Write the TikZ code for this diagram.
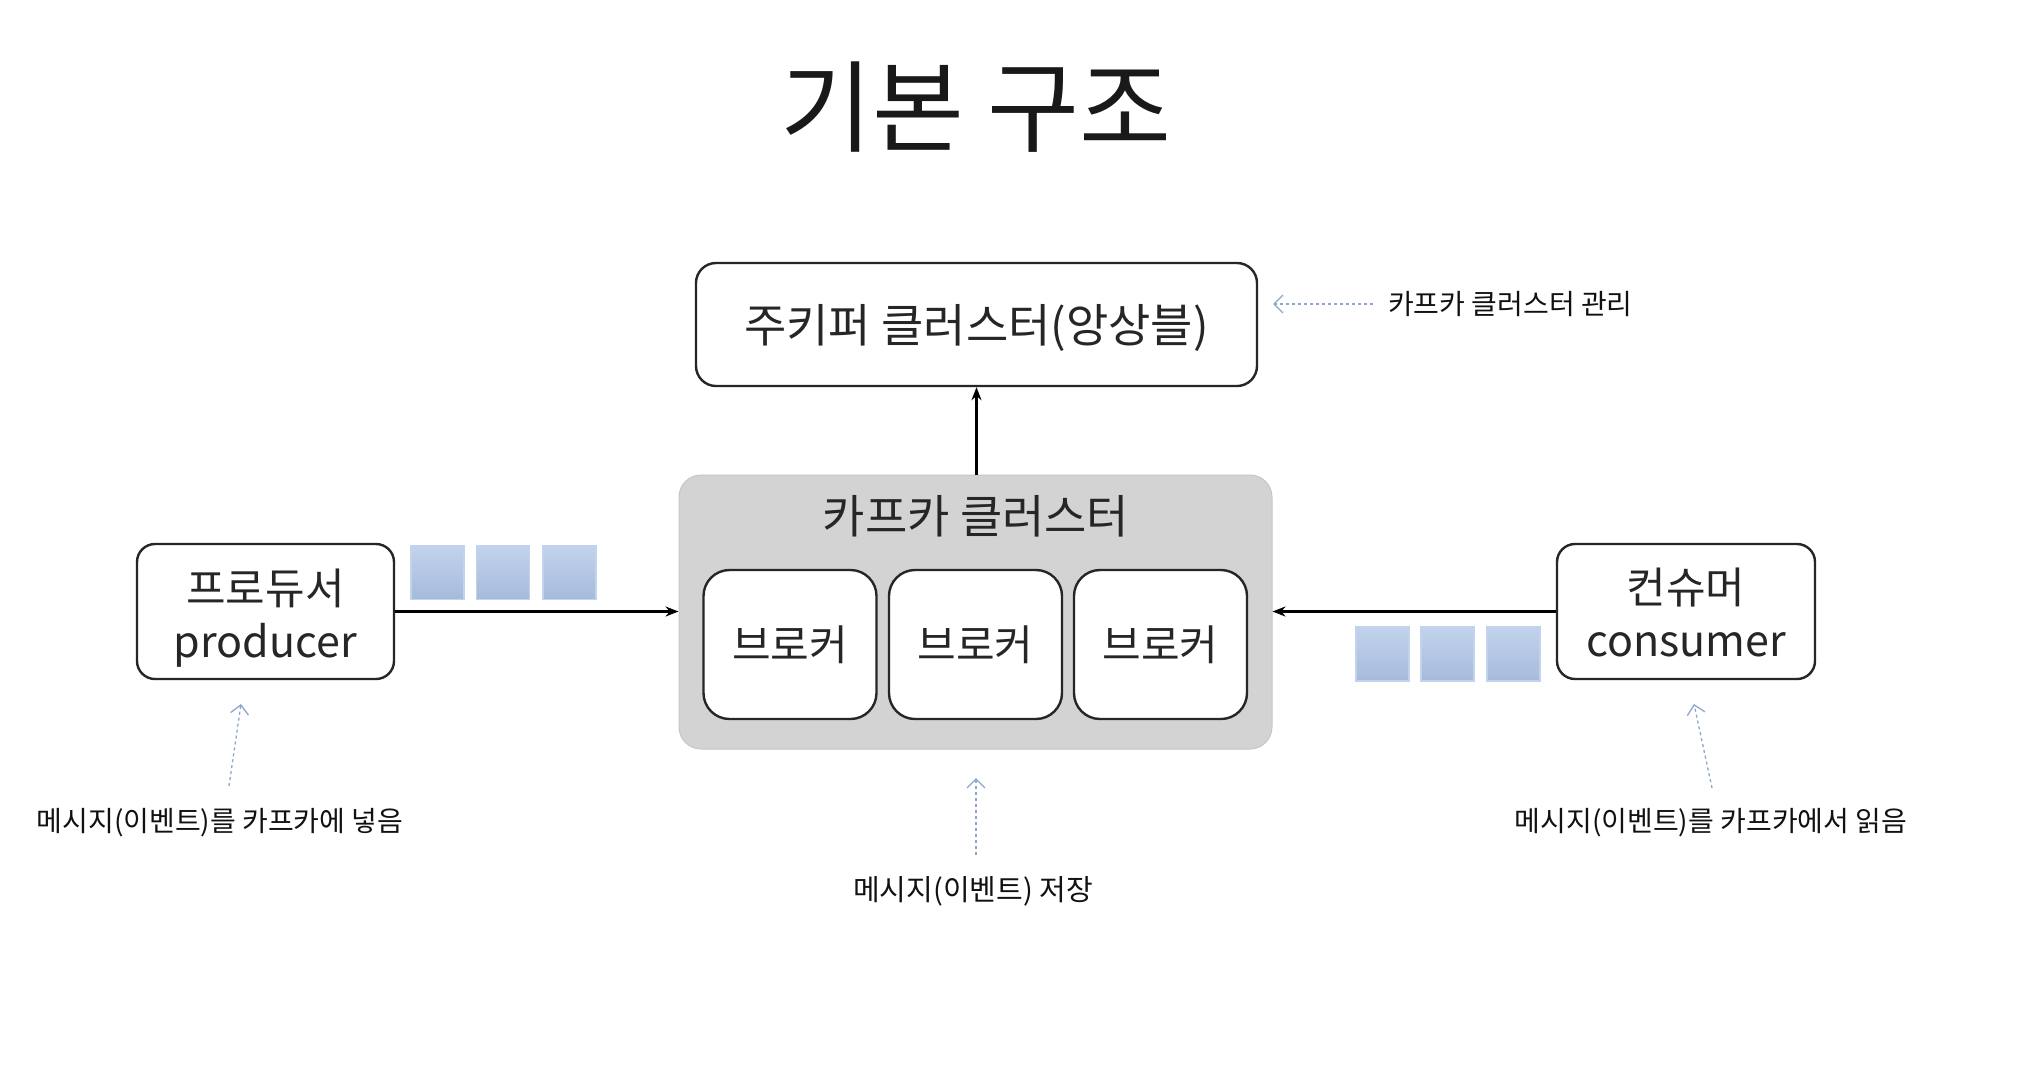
\documentclass[tikz,border=0pt]{standalone}
\usepackage{fontspec}
\setmainfont{Noto Sans CJK KR}
\usetikzlibrary{arrows.meta}
\definecolor{qblue}{HTML}{AEC4E6}
\definecolor{qedge}{HTML}{C2D3EE}
\definecolor{kgray}{HTML}{D3D3D3}
\definecolor{kedge}{HTML}{C6C6C6}
\definecolor{notec}{HTML}{8EA6CF}
\definecolor{inkc}{HTML}{111111}
\begin{document}
\begin{tikzpicture}[x=1pt,y=-1pt,
  box/.style={draw=black!85, line width=2.4pt, fill=white, rounded corners=20pt,
    align=center, inner sep=0pt, font=\fontsize{42}{55}\selectfont, text=black!85},
  brokerbox/.style={box, rounded corners=26pt, minimum width=173pt, minimum height=149pt},
  boxtext/.style={align=center, inner sep=0pt, font=\fontsize{43}{55}\selectfont, text=black!85},
  queue/.style={draw=qedge, line width=1.2pt, top color=qblue!75!white, bottom color=qblue!95!black,
    minimum width=53pt, minimum height=54pt, inner sep=0pt},
  flow/.style={draw=black, line width=2.6pt, -{Stealth[length=13pt,width=10pt]}},
  note/.style={font=\fontsize{28}{32}\selectfont, text=inkc, inner sep=0pt},
  notearrow/.style={draw=notec, line width=1.3pt, dash pattern=on 3pt off 3pt,
    -{Straight Barb[length=9pt,width=18pt,line width=1.3pt]}}
]
\useasboundingbox[fill=white] (0,0) rectangle (2040,1080);

% title
\node[font=\fontsize{100}{116}\selectfont, text=black!90] (title) at (976,107) {기본 구조};

% zookeeper
\node[box, minimum width=561pt, minimum height=123pt, font=\fontsize{46}{55}\selectfont] (zk) at (976.5,324.5) {};
\node[boxtext, font=\fontsize{46}{55}\selectfont] (zktext) at (976.5,328) {주키퍼 클러스터(앙상블)};

% kafka cluster
\node[draw=kedge, line width=1pt, fill=kgray, rounded corners=22pt, minimum width=593pt, minimum height=274pt] (kafka) at (975.5,612) {};
\node[font=\fontsize{46}{50}\selectfont, text=black!85, inner sep=0pt] (klabel) at (976,516) {카프카 클러스터};
\node[brokerbox] (b1) at (790,644.5) {브로커};
\node[brokerbox] (b2) at (975.5,644.5) {브로커};
\node[brokerbox] (b3) at (1160.5,644.5) {브로커};

% producer / consumer
\node[box, rounded corners=18pt, minimum width=257pt, minimum height=135pt] (prod) at (265.5,611.5) {};
\node[boxtext] (prodtext) at (265.5,618) {프로듀서\\[-2pt]producer};
\node[box, rounded corners=18pt, minimum width=258pt, minimum height=135pt] (cons) at (1686,611.5) {};
\node[boxtext] (constext) at (1686,612) {컨슈머\\[-2pt]consumer};

% queues
\node[queue] (q1) at (437.5,572.5) {};
\node[queue] (q2) at (503,572.5) {};
\node[queue] (q3) at (569.5,572.5) {};
\node[queue] (q4) at (1382.5,654) {};
\node[queue] (q5) at (1447.5,654) {};
\node[queue] (q6) at (1513.5,654) {};

% flows
\draw[flow] (prod.east) -- (prod.east -| kafka.west);
\draw[flow] (cons.west) -- (cons.west -| kafka.east);
\draw[flow] (kafka.north -| zk.south) -- (zk.south);

% notes
\node[note, anchor=west] (nzk) at (1388,304) {카프카 클러스터 관리};
\node[note] (nprod) at (220,823) {메시지(이벤트)를 카프카에 넣음};
\node[note, font=\fontsize{29}{32}\selectfont] (nkafka) at (973,891) {메시지(이벤트) 저장};
\node[note] (ncons) at (1711,823) {메시지(이벤트)를 카프카에서 읽음};

\coordinate (azt) at (1373,304);
\coordinate (azh) at (1273,304);
\coordinate (apt) at (229,786);
\coordinate (aph) at (241,704);
\coordinate (akt) at (976,855);
\coordinate (akh) at (976,778);
\coordinate (act) at (1712,788);
\coordinate (ach) at (1694,704);

\draw[notearrow] (azt) -- (azh);
\draw[notearrow] (apt) -- (aph);
\draw[notearrow] (akt) -- (akh);
\draw[notearrow] (act) -- (ach);
\end{tikzpicture}
\end{document}
